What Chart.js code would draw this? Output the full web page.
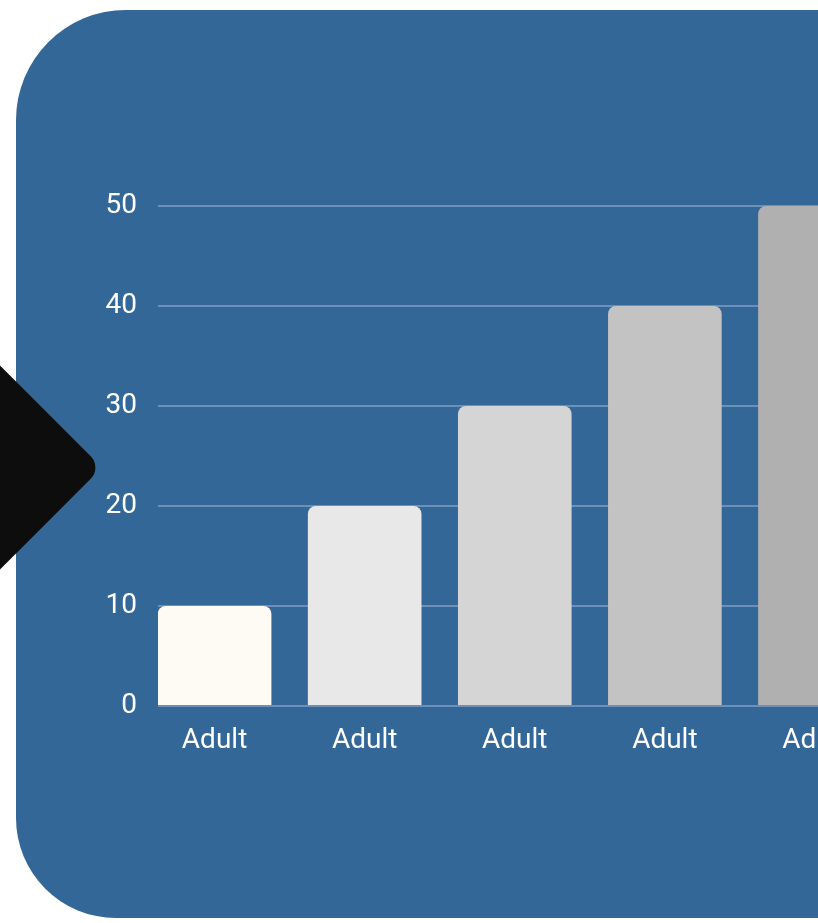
<!DOCTYPE html>
<html>
<head>
<meta charset="utf-8">
<script src="https://cdn.jsdelivr.net/npm/chart.js@4/dist/chart.umd.min.js"></script>
<style>
  html, body { margin: 0; padding: 0; background: #fff; overflow: hidden; width: 818px; height: 923px; }
  .blob {
    position: absolute; left: 16px; top: 10px; width: 960px; height: 908px;
    background: #336797; border-radius: 110px 110px 110px 100px;
  }
  .arrow {
    position: absolute; width: 285px; height: 285px; left: -242px; top: 325px;
    background: #0d0d0d; border-radius: 16px; transform: rotate(45deg);
  }
  .wrap { position: absolute; left: 0; top: 0; width: 960px; height: 923px; }
</style>
</head>
<body>
<div class="blob"></div>
<div class="arrow"></div>
<div class="wrap"><canvas id="myChart"></canvas></div>
<script>
// data
const labels = ["Adult", "Adult", "Adult", "Adult", "Adult"];
const values = [10, 20, 30, 40, 50];
const barColors = ["#FEFBF4", "#E8E8E8", "#D5D5D5", "#C3C3C3", "#B0B0B0"];
const yTicks = [0, 10, 20, 30, 40, 50];

const data = {
  datasets: [
    {
      data: values.map((v, i) => ({ x: i + 1, y: v })),
      backgroundColor: barColors,
      borderRadius: 8,
      borderSkipped: "start",
      categoryPercentage: 1,
      barPercentage: 0.757,
    },
  ],
};

const config = {
  type: "bar",
  data: data,
  options: {
    responsive: true,
    maintainAspectRatio: false,
    animation: false,
    layout: { padding: { left: 0, top: 206, right: 70, bottom: 157 } },
    plugins: {
      legend: { display: false },
      title: { display: false },
      tooltip: { enabled: false },
    },
    scales: {
      x: {
        type: "linear",
        min: 0.623,
        max: 5.5,
        offset: false,
        grid: { display: false, drawTicks: false },
        border: { display: false },
        afterBuildTicks: (scale) => {
          scale.ticks = labels.map((l, i) => ({ value: i + 1 }));
        },
        afterFit: (scale) => { scale.height = 60; },
        ticks: {
          color: "#ffffff",
          font: { family: "Roboto", size: 28 },
          padding: 18,
          maxRotation: 0,
          autoSkip: false,
          callback: (v) => labels[v - 1],
        },
      }, //x
      y: {
        min: 0,
        max: 50,
        afterBuildTicks: (scale) => {
          scale.ticks = yTicks.map((v) => ({ value: v }));
        },
        afterFit: (scale) => { scale.width = 158; },
        grid: { color: "#6E8FB7", lineWidth: 2, drawTicks: false },
        border: { display: false },
        ticks: {
          color: "#ffffff",
          font: { family: "Roboto", size: 28 },
          padding: 21,
        },
      }, //y
    }, //scales
  }, //options
};

var myChart = new Chart(document.getElementById("myChart"), config);
</script>
</body>
</html>
